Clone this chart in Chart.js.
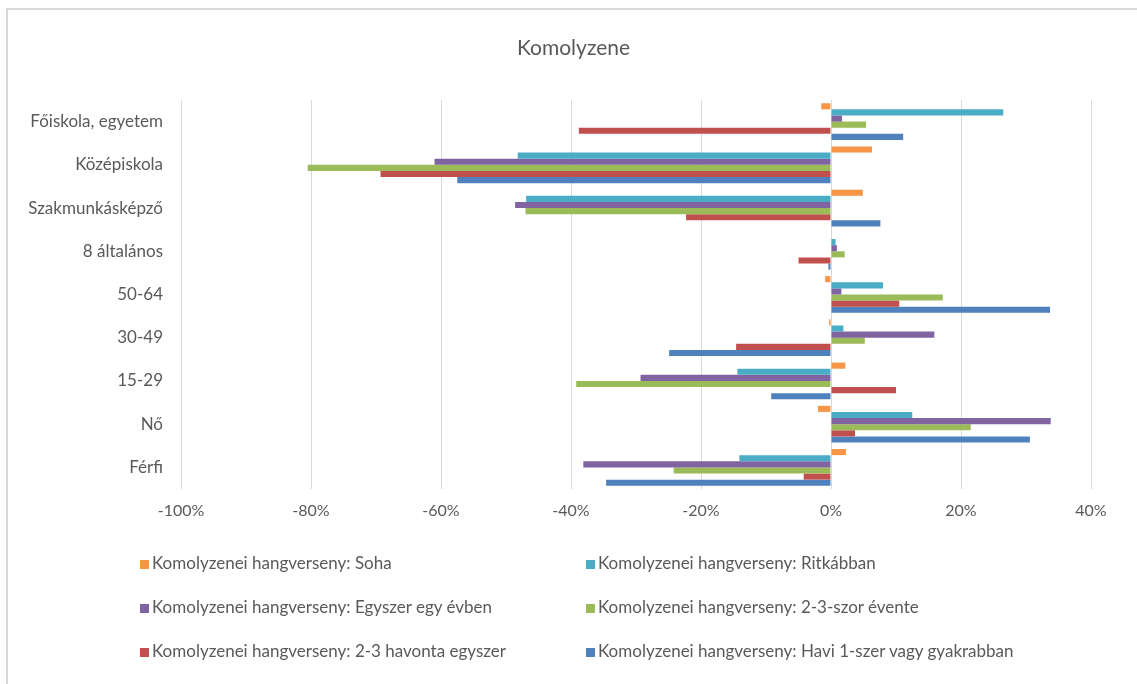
<!DOCTYPE html>
<html>
<head>
<meta charset="utf-8">
<script src="https://cdn.jsdelivr.net/npm/chart.js@4/dist/chart.umd.min.js"></script>
<style>
    html, body { margin: 0; padding: 0; background: #ffffff; }
    #wrap { position: relative; width: 1137px; height: 684px; overflow: hidden; }
    #frame { position: absolute; left: 6px; top: 8px; width: 1200px; height: 800px;
             border-top: 2px solid #d9d9d9; border-left: 2px solid #d9d9d9; }
    #chart { position: absolute; left: 0; top: 0; }
    #title { position: absolute; left: 0; width: 1147px; top: 34px; text-align: center;
             font-family: Lato, "Open Sans", sans-serif; font-size: 21px; color: #595959; }
    #legend { position: absolute; left: 140px; top: 550px; width: 900px;
              font-family: Lato, "Open Sans", sans-serif; font-size: 17px; color: #595959; }
    .item { position: absolute; white-space: nowrap; height: 26px; line-height: 26px; }
    .box { display: inline-block; width: 9px; height: 9px; margin-right: 3px; vertical-align: 0px; }
</style>
</head>
<body>
<div id="wrap">
    <div id="frame"></div>
    <canvas id="chart" width="1137" height="684"></canvas>
    <div id="title">Komolyzene</div>
    <div id="legend"></div>
</div>
<script>
// categories, top to bottom
const categories = ['Főiskola, egyetem', 'Középiskola', 'Szakmunkásképző', '8 általános',
    '50-64', '30-49', '15-29', 'Nő', 'Férfi'];

const seriesNames = [
    'Komolyzenei hangverseny: Soha',
    'Komolyzenei hangverseny: Ritkábban',
    'Komolyzenei hangverseny: Egyszer egy évben',
    'Komolyzenei hangverseny: 2-3-szor évente',
    'Komolyzenei hangverseny: 2-3 havonta egyszer',
    'Komolyzenei hangverseny: Havi 1-szer vagy gyakrabban'
];

// values in %, same order as categories
const soha       = [-1.5,   6.3,   4.9,  0,    -0.9,  -0.3,   2.2,  -2.0,   2.3];
const ritkabban  = [26.5, -48.2, -46.9,  0.7,   8.0,   1.9, -14.4,  12.5, -14.1];
const egyszer    = [ 1.7, -61.0, -48.6,  0.9,   1.6,  15.9, -29.3,  33.8, -38.1];
const ketharom   = [ 5.4, -80.5, -47.0,  2.1,  17.2,   5.2, -39.2,  21.5, -24.2];
const havonta    = [-38.8, -69.3, -22.3, -5.0, 10.5, -14.6,  10.0,   3.7,  -4.2];
const havi1      = [11.1, -57.5,   7.6, -0.4,  33.7, -24.9,  -9.2,  30.6, -34.6];

const xTicks = [-100, -80, -60, -40, -20, 0, 20, 40];
const colors = ['#F79646', '#4BACC6', '#8064A2', '#9BBB59', '#C0504D', '#4F81BD'];

const allSeries = [soha, ritkabban, egyszer, ketharom, havonta, havi1];
const fontFamily = 'Lato, "Open Sans", sans-serif';

const chart = new Chart(document.getElementById('chart'), {
    type: 'bar',
    data: {
        labels: categories,
        datasets: allSeries.map((vals, i) => ({
            label: seriesNames[i],
            data: vals,
            backgroundColor: colors[i],
            borderWidth: 0,
            categoryPercentage: 0.85,
            barPercentage: 1.0
        }))
    },
    options: {
        indexAxis: 'y',
        responsive: false,
        animation: false,
        layout: { padding: { left: 0, right: 46, top: 100, bottom: 145 } },
        plugins: {
            legend: { display: false },
            tooltip: { enabled: false },
            title: { display: false }
        },
        scales: {
            x: {
                min: -100,
                max: 40,
                afterBuildTicks: (scale) => { scale.ticks = xTicks.map(v => ({ value: v })); },
                afterFit: (scale) => { scale.height = 50; },
                grid: { color: '#d9d9d9', lineWidth: 1, drawTicks: false },
                border: { display: false },
                ticks: {
                    padding: 12,
                    color: '#595959',
                    font: { family: fontFamily, size: 16 },
                    callback: (v) => v + '%'
                }
            },
            y: {
                afterFit: (scale) => { scale.width = 181; },
                grid: { display: false, drawTicks: false },
                border: { display: false },
                ticks: {
                    padding: 18,
                    color: '#595959',
                    font: { family: fontFamily, size: 17 }
                }
            }
        }
    }
});

// two-column legend built from the chart datasets
const legendEl = document.getElementById('legend');
chart.data.datasets.forEach((ds, i) => {
    const item = document.createElement('div');
    item.className = 'item';
    item.style.left = (i % 2 === 0 ? 0 : 446) + 'px';
    item.style.top = (Math.floor(i / 2) * 44) + 'px';
    item.innerHTML = '<span class="box" style="background:' + ds.backgroundColor + '"></span>' + ds.label;
    legendEl.appendChild(item);
});
</script>
</body>
</html>
